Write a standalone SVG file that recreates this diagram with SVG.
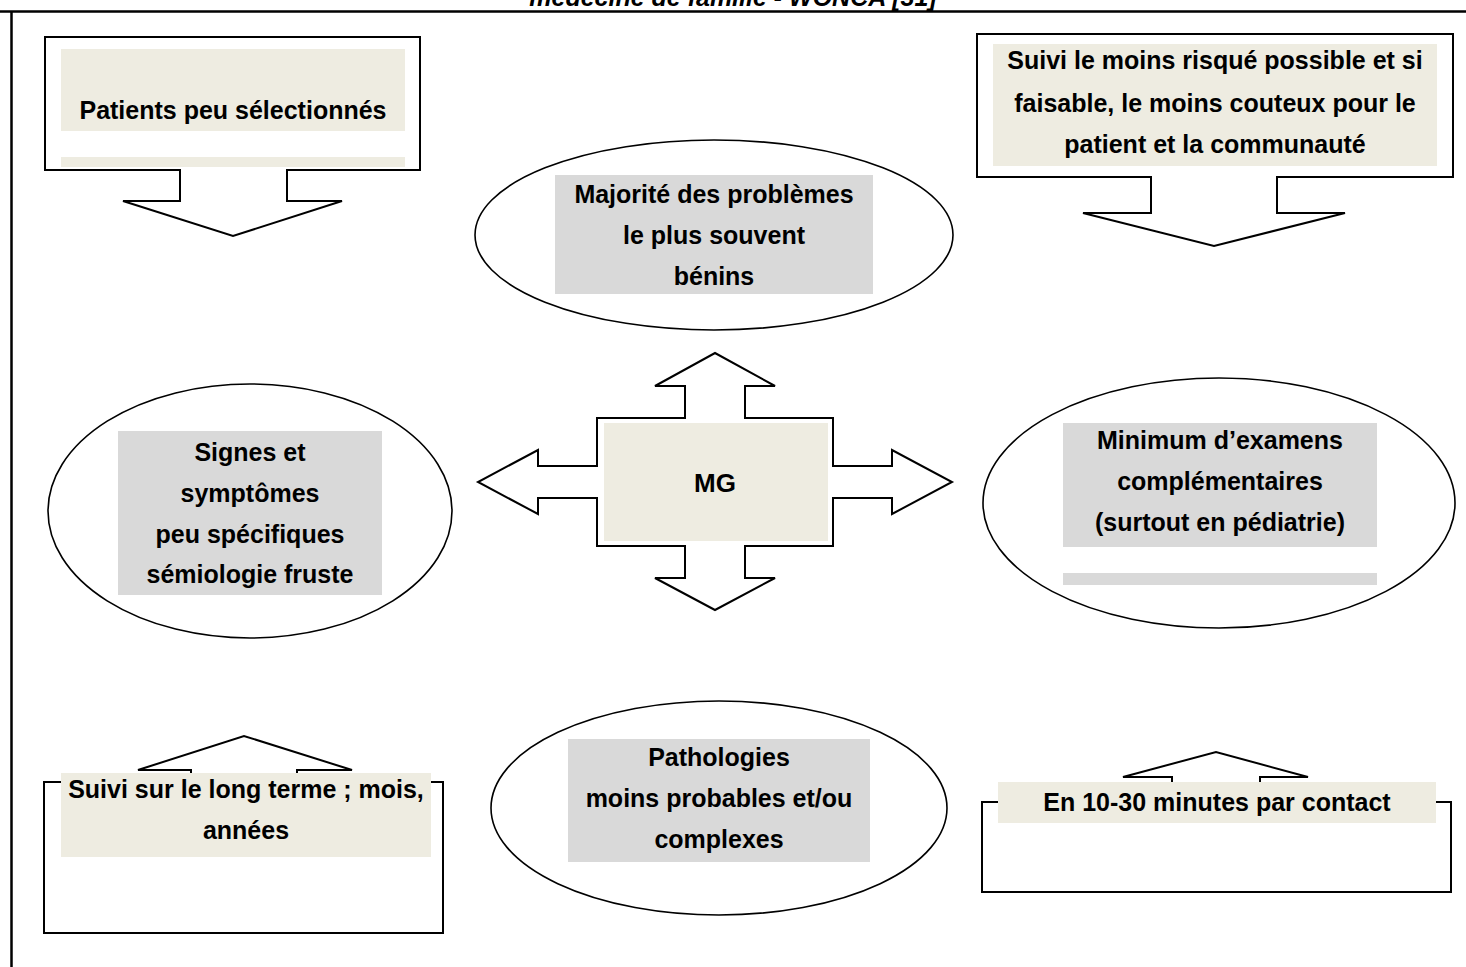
<svg xmlns="http://www.w3.org/2000/svg" width="1466" height="967" viewBox="0 0 1466 967">
  <style>
    .frame { stroke: #000; stroke-width: 2.5; fill: none; }
    .callout { fill: #fff; stroke: #000; stroke-width: 2; stroke-linejoin: miter; }
    .oval { fill: #fff; stroke: #000; stroke-width: 1.6; }
    .beige { fill: #EEECE1; }
    .grey { fill: #D9D9D9; }
    .lbl { font-family: "Liberation Sans", Arial, sans-serif; font-weight: bold; font-size: 25px; fill: #000; text-anchor: middle; }
    .caption { font-family: "Liberation Sans", Arial, sans-serif; font-weight: bold; font-style: italic; font-size: 25px; fill: #000; text-anchor: middle; }
  </style>

  <rect width="1466" height="967" fill="#fff"/>

  <!-- caption line, mostly above the page edge -->
  <text class="caption" x="733" y="6">médecine de famille - WONCA [31]</text>

  <!-- page frame -->
  <path class="frame" d="M0,11.5 H1466 M11.5,11.5 V967"/>

  <g id="connectors">
    <!-- central four-way arrow -->
    <path class="callout" d="M715,353 L775,386 H745 V418 H833 V466 H892 V450 L952,482 L892,514 V498 H833 V546 H745 V578 H775 L715,610 L655,578 H685 V546 H597 V498 H538 V514 L478,482 L538,450 V466 H597 V418 H685 V386 H655 Z"/>
  </g>

  <g id="node-mg">
    <rect class="beige" x="604" y="423" width="224" height="118"/>
    <text class="lbl" x="715" y="492" style="font-size:26px">MG</text>
  </g>

  <g id="node-patients">
    <path class="callout" d="M45,37 H420 V170 H287 V201 H342 L233,236 L123,201 H180 V170 H45 Z"/>
    <rect class="beige" x="61" y="49" width="344" height="82"/>
    <rect class="beige" x="61" y="157" width="344" height="10"/>
    <text class="lbl" x="233" y="119">Patients peu sélectionnés</text>
  </g>

  <g id="node-suivi-risque">
    <path class="callout" d="M977,34 H1453 V177 H1277 V213 H1345 L1214,246 L1083,213 H1151 V177 H977 Z"/>
    <rect class="beige" x="993" y="44" width="444" height="122"/>
    <text class="lbl" x="1215" y="69">Suivi le moins risqué possible et si</text>
    <text class="lbl" x="1215" y="112">faisable, le moins couteux pour le</text>
    <text class="lbl" x="1215" y="153">patient et la communauté</text>
  </g>

  <g id="node-majorite">
    <ellipse class="oval" cx="714" cy="235" rx="239" ry="95"/>
    <rect class="grey" x="555" y="175" width="318" height="119"/>
    <text class="lbl" x="714" y="203">Majorité des problèmes</text>
    <text class="lbl" x="714" y="244">le plus souvent</text>
    <text class="lbl" x="714" y="285">bénins</text>
  </g>

  <g id="node-signes">
    <ellipse class="oval" cx="250" cy="511" rx="202" ry="127"/>
    <rect class="grey" x="118" y="431" width="264" height="164"/>
    <text class="lbl" x="250" y="461">Signes et</text>
    <text class="lbl" x="250" y="502">symptômes</text>
    <text class="lbl" x="250" y="543">peu spécifiques</text>
    <text class="lbl" x="250" y="583">sémiologie fruste</text>
  </g>

  <g id="node-examens">
    <ellipse class="oval" cx="1219" cy="503" rx="236" ry="125"/>
    <rect class="grey" x="1063" y="423" width="314" height="124"/>
    <rect class="grey" x="1063" y="573" width="314" height="12"/>
    <text class="lbl" x="1220" y="449">Minimum d’examens</text>
    <text class="lbl" x="1220" y="490">complémentaires</text>
    <text class="lbl" x="1220" y="531">(surtout en pédiatrie)</text>
  </g>

  <g id="node-pathologies">
    <ellipse class="oval" cx="719" cy="808" rx="228" ry="107"/>
    <rect class="grey" x="568" y="739" width="302" height="123"/>
    <text class="lbl" x="719" y="766">Pathologies</text>
    <text class="lbl" x="719" y="807">moins probables et/ou</text>
    <text class="lbl" x="719" y="848">complexes</text>
  </g>

  <g id="node-long-terme">
    <path class="callout" d="M44,782 H191 V770 H138 L244,736 L352,770 H297 V782 H443 V933 H44 Z"/>
    <rect class="beige" x="61" y="773" width="370" height="84"/>
    <text class="lbl" x="246" y="798">Suivi sur le long terme ; mois,</text>
    <text class="lbl" x="246" y="839">années</text>
  </g>

  <g id="node-contact">
    <path class="callout" d="M982,802 H1172 V777 H1123 L1216,752 L1308,777 H1260 V802 H1451 V892 H982 Z"/>
    <rect class="beige" x="998" y="782" width="438" height="41"/>
    <text class="lbl" x="1217" y="811">En 10-30 minutes par contact</text>
  </g>
</svg>
